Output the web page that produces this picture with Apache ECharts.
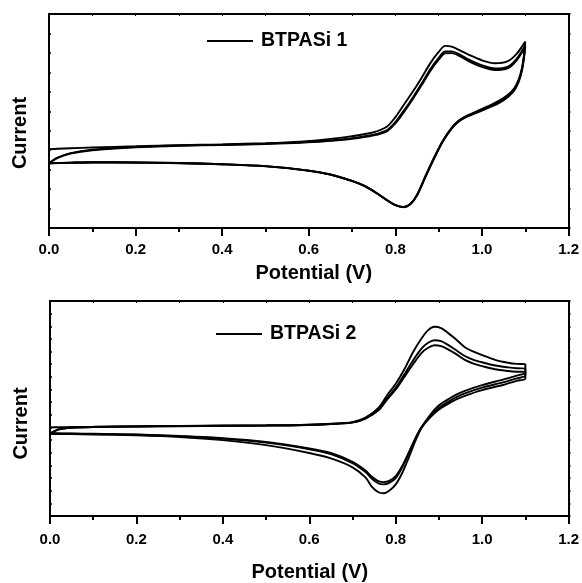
<!DOCTYPE html>
<html>
<head>
<meta charset="utf-8">
<script src="https://cdn.jsdelivr.net/npm/echarts@6/dist/echarts.min.js"></script>
<style>
  html, body { margin: 0; padding: 0; background: #fff; }
  #cv { width: 582px; height: 583px; }
</style>
</head>
<body>
<div id="cv"></div>
<script>
// x ticks
var potTicks = [0.0, 0.2, 0.4, 0.6, 0.8, 1.0, 1.2];

// BTPASi 1 - forward scans (V, current in arbitrary units)
var topFwdV = [0, 0.02, 0.05, 0.1, 0.2, 0.3, 0.4, 0.5, 0.58, 0.65, 0.7, 0.75, 0.78, 0.8, 0.82, 0.84, 0.86, 0.88, 0.9, 0.915, 0.93, 0.95, 0.97, 1.0, 1.03, 1.06, 1.08, 1.1];
var topFwd1 = [4.05, 4.07, 4.1, 4.14, 4.2, 4.26, 4.3, 4.36, 4.44, 4.58, 4.72, 4.92, 5.2, 5.7, 6.35, 7.0, 7.7, 8.45, 9.05, 9.36, 9.32, 9.12, 8.9, 8.62, 8.47, 8.58, 8.95, 9.58];
var topFwd2 = [3.33, 3.62, 3.85, 4.02, 4.16, 4.24, 4.28, 4.33, 4.4, 4.5, 4.62, 4.8, 5.02, 5.45, 6.05, 6.7, 7.4, 8.15, 8.75, 9.08, 9.08, 8.9, 8.65, 8.36, 8.2, 8.3, 8.7, 9.4];
var topFwd3 = [3.33, 3.6, 3.83, 4.0, 4.15, 4.23, 4.27, 4.32, 4.38, 4.48, 4.58, 4.76, 4.97, 5.38, 5.97, 6.62, 7.32, 8.05, 8.65, 8.98, 8.99, 8.82, 8.57, 8.28, 8.12, 8.22, 8.62, 9.32];
// BTPASi 1 - reverse scans
var topRevV = [1.1, 1.097, 1.092, 1.085, 1.075, 1.06, 1.04, 1.02, 1.0, 0.98, 0.96, 0.945, 0.93, 0.91, 0.89, 0.87, 0.85, 0.835, 0.82, 0.8, 0.78, 0.76, 0.73, 0.7, 0.65, 0.6, 0.5, 0.4, 0.3, 0.2, 0.1, 0.05, 0];
var topRev1 = [9.58, 8.9, 8.2, 7.65, 7.2, 6.85, 6.55, 6.32, 6.12, 5.92, 5.72, 5.5, 5.15, 4.5, 3.65, 2.7, 1.7, 1.25, 1.08, 1.18, 1.44, 1.75, 2.15, 2.42, 2.75, 2.95, 3.18, 3.28, 3.34, 3.37, 3.38, 3.36, 3.33];
var topRev2 = [9.4, 8.8, 8.12, 7.58, 7.13, 6.78, 6.48, 6.26, 6.07, 5.88, 5.69, 5.47, 5.13, 4.48, 3.62, 2.67, 1.69, 1.24, 1.08, 1.18, 1.44, 1.75, 2.15, 2.42, 2.75, 2.95, 3.18, 3.28, 3.34, 3.37, 3.38, 3.36, 3.33];
var topRev3 = [9.32, 8.72, 8.05, 7.52, 7.08, 6.73, 6.43, 6.22, 6.03, 5.85, 5.66, 5.45, 5.11, 4.46, 3.6, 2.65, 1.68, 1.23, 1.07, 1.17, 1.43, 1.74, 2.14, 2.41, 2.74, 2.94, 3.17, 3.27, 3.33, 3.36, 3.37, 3.35, 3.33];

// BTPASi 2 - forward scans
var botFwdV = [0, 0.02, 0.05, 0.1, 0.2, 0.3, 0.4, 0.5, 0.58, 0.65, 0.7, 0.73, 0.76, 0.78, 0.8, 0.82, 0.84, 0.86, 0.875, 0.89, 0.905, 0.92, 0.94, 0.96, 0.98, 1.0, 1.03, 1.06, 1.08, 1.1];
var botFwd1 = [7.0, 7.02, 7.04, 7.06, 7.1, 7.12, 7.15, 7.17, 7.2, 7.3, 7.42, 7.78, 8.55, 9.55, 10.45, 11.6, 12.95, 14.05, 14.7, 14.96, 14.85, 14.5, 13.95, 13.35, 13.0, 12.72, 12.35, 12.12, 12.03, 12.0];
var botFwd2 = [6.5, 6.85, 6.98, 7.04, 7.08, 7.11, 7.14, 7.16, 7.19, 7.28, 7.4, 7.72, 8.4, 9.3, 10.15, 11.2, 12.3, 13.25, 13.7, 13.9, 13.82, 13.55, 13.1, 12.65, 12.35, 12.15, 11.9, 11.75, 11.68, 11.66];
var botFwd3 = [6.52, 6.84, 6.97, 7.03, 7.07, 7.1, 7.13, 7.15, 7.18, 7.27, 7.38, 7.7, 8.35, 9.2, 10.0, 11.0, 12.0, 12.9, 13.3, 13.5, 13.43, 13.2, 12.8, 12.35, 12.05, 11.85, 11.6, 11.47, 11.41, 11.39];
// BTPASi 2 - reverse scans
var botRevV = [1.1, 1.08, 1.05, 1.0, 0.96, 0.94, 0.92, 0.9, 0.88, 0.86, 0.845, 0.83, 0.815, 0.8, 0.785, 0.772, 0.76, 0.745, 0.73, 0.7, 0.65, 0.6, 0.5, 0.4, 0.3, 0.2, 0.1, 0.05, 0];
var botRev1 = [11.35, 11.1, 10.8, 10.35, 9.9, 9.6, 9.2, 8.75, 8.0, 7.0, 5.9, 4.6, 3.4, 2.5, 2.0, 1.8, 1.88, 2.3, 3.05, 3.85, 4.55, 4.98, 5.6, 6.0, 6.25, 6.38, 6.45, 6.48, 6.5];
var botRev2 = [11.1, 10.88, 10.58, 10.15, 9.7, 9.4, 9.0, 8.55, 7.9, 7.05, 6.1, 4.95, 3.85, 3.0, 2.62, 2.5, 2.58, 2.95, 3.47, 4.18, 4.9, 5.28, 5.8, 6.12, 6.3, 6.42, 6.48, 6.5, 6.52];
var botRev3 = [10.88, 10.68, 10.38, 9.95, 9.5, 9.22, 8.85, 8.42, 7.8, 7.0, 6.1, 5.0, 3.95, 3.15, 2.78, 2.68, 2.76, 3.1, 3.6, 4.28, 4.98, 5.35, 5.85, 6.15, 6.32, 6.44, 6.5, 6.52, 6.54];

var FONT = 'Liberation Sans';

function cycle(fv, fi, rv, ri) {
    var pts = [];
    for (var i = 0; i < fv.length; i++) pts.push([fv[i], fi[i]]);
    for (var j = 0; j < rv.length; j++) pts.push([rv[j], ri[j]]);
    return pts;
}

function cvSeries(name, xi, yi, data) {
    return {
        name: name,
        type: 'line',
        xAxisIndex: xi,
        yAxisIndex: yi,
        data: data,
        symbol: 'none',
        smooth: 0.3,
        silent: true,
        animation: false,
        lineStyle: { color: '#000', width: 1.9 }
    };
}

function bottomX(gi, margin, nameGap, namePad) {
    return {
        type: 'value', gridIndex: gi, min: 0, max: 1.2, interval: 0.2,
        name: 'Potential (V)', nameLocation: 'middle', nameGap: nameGap,
        nameTextStyle: { fontFamily: FONT, fontWeight: 'bold', fontSize: 20, color: '#000', padding: namePad },
        axisLine: { show: true, onZero: false, lineStyle: { color: '#000', width: 2 } },
        axisTick: { show: true, inside: false, length: 8, lineStyle: { color: '#000', width: 2 } },
        minorTick: { show: true, splitNumber: 2, length: 4, lineStyle: { color: '#000', width: 2 } },
        axisLabel: {
            margin: margin, fontFamily: FONT, fontWeight: 'bold', fontSize: 15, color: '#000',
            formatter: function (v) { return v.toFixed(1); }
        },
        splitLine: { show: false }
    };
}

function topX(gi) {
    return {
        type: 'value', gridIndex: gi, position: 'top', min: 0, max: 1.2, interval: 0.2,
        axisLine: { show: true, onZero: false, lineStyle: { color: '#000', width: 2 } },
        axisTick: { show: true, inside: true, length: 2, lineStyle: { color: '#000' } },
        minorTick: { show: true, splitNumber: 2, length: 2, lineStyle: { color: '#000' } },
        axisLabel: { show: false },
        splitLine: { show: false }
    };
}

function sideY(gi, max, pos, shift) {
    var ax = {
        type: 'value', gridIndex: gi, position: pos, min: 0, max: max, interval: 1,
        axisLine: { show: true, onZero: false, lineStyle: { color: '#000', width: 2 } },
        axisTick: { show: true, inside: pos === 'left', length: 2, lineStyle: { color: '#000', width: 1.5 } },
        axisLabel: { show: false },
        splitLine: { show: false }
    };
    if (pos === 'left') {
        ax.name = 'Current';
        ax.nameLocation = 'middle';
        ax.nameGap = 19;
        // right padding pushes the rotated name downwards
        ax.nameTextStyle = { fontFamily: FONT, fontWeight: 'bold', fontSize: 20, color: '#000', padding: [0, shift, 0, 0] };
    }
    return ax;
}

function legendAt(left, top, name) {
    return {
        data: [name], left: left, top: top, padding: 0, icon: 'rect', itemWidth: 46, itemHeight: 2,
        itemGap: 0, selectedMode: false,
        itemStyle: { color: '#000' },
        textStyle: { fontFamily: FONT, fontWeight: 'bold', fontSize: 19.5, color: '#000', padding: [0, 0, 0, 3] }
    };
}

var chart = echarts.init(document.getElementById('cv'), null, { renderer: 'canvas' });

chart.setOption({
    backgroundColor: '#fff',
    animation: false,
    grid: [
        { left: 49, right: 12, top: 14, height: 214 },
        { left: 50, right: 12, top: 301, height: 215 }
    ],
    xAxis: [bottomX(0, 14, 35, [0, 0, 0, 10]), topX(0), bottomX(1, 16, 46, [0, 0, 0, 1]), topX(1)],
    yAxis: [sideY(0, 11, 'left', 24), sideY(0, 11, 'right', 0),
            sideY(1, 17, 'left', 30), sideY(1, 17, 'right', 0)],
    legend: [legendAt(207, 31, 'BTPASi 1'), legendAt(216, 324, 'BTPASi 2')],
    series: [
        cvSeries('BTPASi 1', 0, 0, cycle(topFwdV, topFwd1, topRevV, topRev1)),
        cvSeries('BTPASi 1', 0, 0, cycle(topFwdV, topFwd2, topRevV, topRev2)),
        cvSeries('BTPASi 1', 0, 0, cycle(topFwdV, topFwd3, topRevV, topRev3)),
        cvSeries('BTPASi 2', 2, 2, cycle(botFwdV, botFwd1, botRevV, botRev1)),
        cvSeries('BTPASi 2', 2, 2, cycle(botFwdV, botFwd2, botRevV, botRev2)),
        cvSeries('BTPASi 2', 2, 2, cycle(botFwdV, botFwd3, botRevV, botRev3))
    ]
});
</script>
</body>
</html>
